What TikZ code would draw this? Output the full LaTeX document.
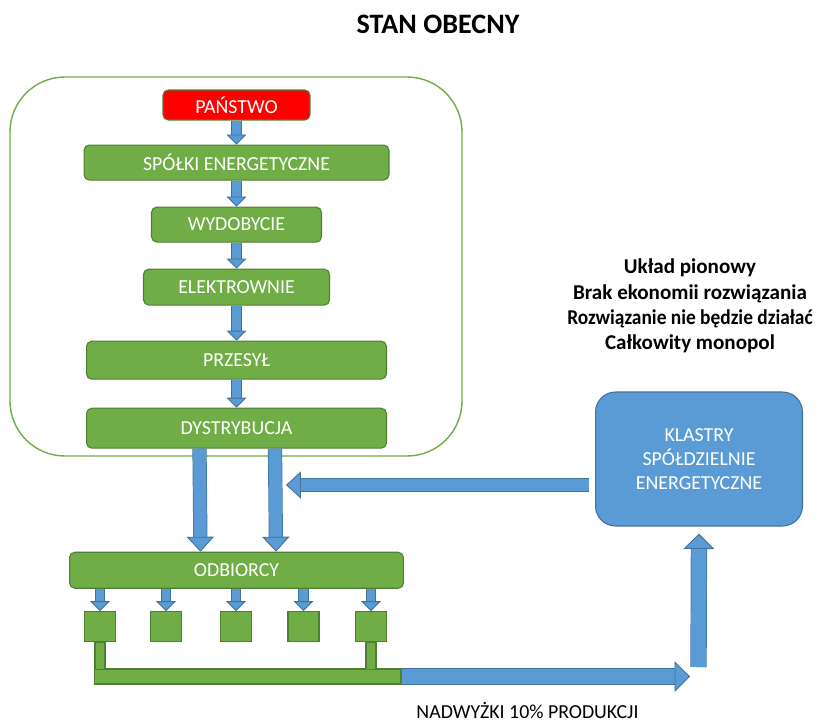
\documentclass[tikz,border=0pt]{standalone}
\usepackage{fontspec}
\setmainfont{Carlito}
\usetikzlibrary{arrows.meta, positioning}
\definecolor{gfill}{HTML}{70AD47}
\definecolor{gline}{HTML}{507E32}
\definecolor{bfill}{HTML}{5B9BD5}
\definecolor{bline}{HTML}{41719C}
\definecolor{rfill}{HTML}{FF0000}

\begin{document}
\begin{tikzpicture}[
    x=0.02cm, y=-0.02cm,
    box/.style = {
        rectangle,
        rounded corners=3pt,
        draw=gline,
        fill=gfill,
        line width=0.6pt,
        inner sep=0pt,
        text=white,
        font=\fontsize{11.3}{13}\selectfont
    },
    redbox/.style = {box, fill=rfill},
    sq/.style = {box, rounded corners=0pt, minimum width=0.62cm, minimum height=0.6cm},
    bluebox/.style = {box, fill=bfill, draw=bline, rounded corners=0.4cm},
    arr/.style = {draw=bfill, line width=5pt,
        preaction={draw=bline, line width=5.8pt, arrows=-, shorten >=5.2pt},
        -{Triangle[length=5.7pt, width=11.3pt, line width=0.5pt, fill=bfill, color=bline]}},
    bigarr/.style = {draw=bfill, line width=7.3pt,
        preaction={draw=bline, line width=8.1pt, arrows=-, shorten >=8pt},
        -{Triangle[length=8.5pt, width=15.5pt, line width=0.5pt, fill=bfill, color=bline]}},
    widearr/.style = {draw=bfill, line width=8.5pt,
        preaction={draw=bline, line width=9.3pt, arrows=-, shorten >=8.3pt},
        -{Triangle[length=8.8pt, width=17.5pt, line width=0.5pt, fill=bfill, color=bline]}}
]
\useasboundingbox (0,0) rectangle (828,723);

%% Title
\node[font=\fontsize{16}{19}\selectfont\bfseries] (title) at (438,24) {STAN OBECNY};

%% Frame round the chain
\draw[draw=gfill, line width=0.8pt, rounded corners=1.1cm] (10,77) rectangle (462,456);

%% Chain nodes
\node[redbox, minimum width=2.94cm, minimum height=0.6cm] (pan) at (236.5,105) {PAŃSTWO};
\node[box, minimum width=6.1cm, minimum height=0.7cm, below=0.48cm of pan] (spol) {SPÓŁKI ENERGETYCZNE};
\node[box, minimum width=3.4cm, minimum height=0.7cm, below=0.52cm of spol] (wyd) {WYDOBYCIE};
\node[box, minimum width=3.72cm, minimum height=0.72cm, below=0.52cm of wyd] (elek) {ELEKTROWNIE};
\node[box, minimum width=6cm, minimum height=0.76cm, below=0.7cm of elek] (prz) {PRZESYŁ};
\node[box, minimum width=6cm, minimum height=0.8cm, below=0.56cm of prz] (dys) {DYSTRYBUCJA};
\node[box, minimum width=6.68cm, minimum height=0.72cm, below=2.06cm of dys] (odb) {ODBIORCY};

%% Arrows in the chain
\draw[arr] (pan.south) -- (spol.north);
\draw[arr] (spol.south) -- (wyd.north);
\draw[arr] (wyd.south) -- (elek.north);
\draw[arr] (elek.south) -- (prz.north);
\draw[arr] (prz.south) -- (dys.north);
\draw[bigarr] ([shift={(-37,0)}]dys.south) -- ([shift={(-36,0)}]odb.north);
\draw[bigarr] ([shift={(38.5,0)}]dys.south) -- ([shift={(39.5,0)}]odb.north);

%% Consumers
\foreach \x [count=\i] in {100,166,236,303.5,371}
    \node[sq] (sq\i) at (\x,626.7) {};
\foreach \i in {1,...,5}
    \draw[arr] (sq\i |- odb.south) -- (sq\i.north);

\node[box, rounded corners=0pt, minimum width=6.14cm, minimum height=0.3cm] (bar) at (247.5,676.5) {};
\filldraw[draw=gline, fill=gfill, line width=0.6pt] ([shift={(-5,0)}]sq1.south) rectangle ([shift={(5,1)}]sq1.south |- bar.north);
\filldraw[draw=gline, fill=gfill, line width=0.6pt] ([shift={(-5,0)}]sq5.south) rectangle ([shift={(5,1)}]sq5.south |- bar.north);

%% Clusters
\node[bluebox, minimum width=4.14cm, minimum height=2.68cm, align=center,
      font=\fontsize{11.3}{13.6}\selectfont] (kl) at (699,459) {KLASTRY\\SPÓŁDZIELNIE\\ENERGETYCZNE};
\coordinate (in) at (286,485);
\coordinate (out) at (690,676.5);
\coordinate (up) at (698.5,667);
\draw[bigarr] ([shift={(-6,26)}]kl.west) -- (in);
\draw[widearr] (bar.east) -- (out);
\draw[widearr] (up) -- ([shift={(0,7)}]kl.south);

%% Notes
\node[font=\fontsize{12}{14.4}\selectfont\bfseries, align=center] (uwagi) at (690,306)
    {Układ pionowy\\Brak ekonomii rozwiązania\\\scalebox{0.92}[1]{Rozwiązanie nie będzie działać}\\Całkowity monopol};
\node[font=\fontsize{11.3}{14}\selectfont, anchor=base, inner sep=0pt] (nad) at (527.5,718) {NADWYŻKI 10\% PRODUKCJI};

\end{tikzpicture}
\end{document}
